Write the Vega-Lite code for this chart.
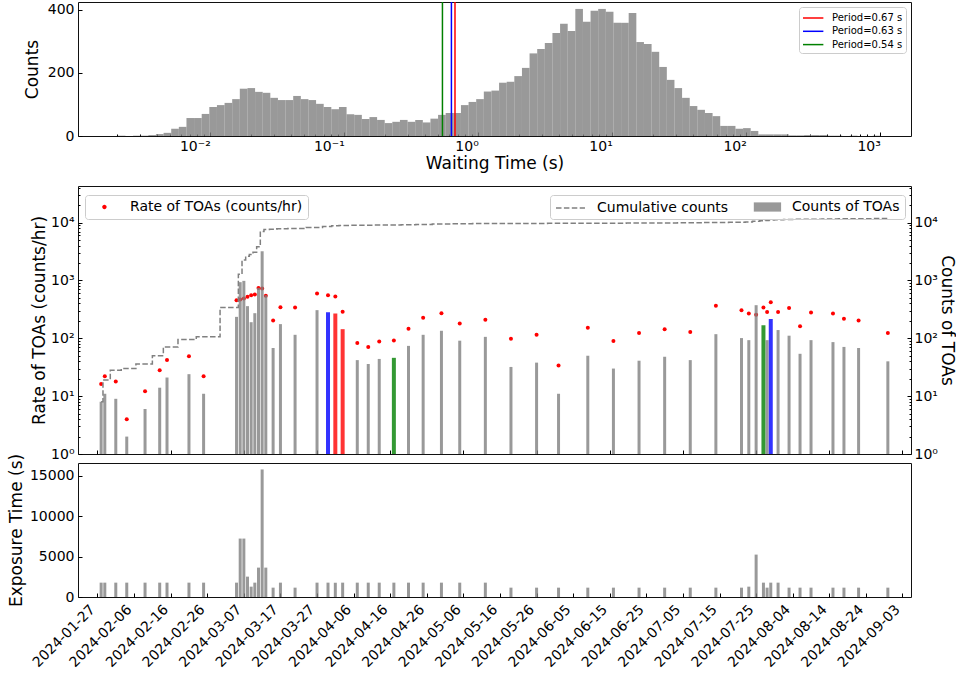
{
  "$schema": "https://vega.github.io/schema/vega-lite/v6.json",
  "background": "white",
  "padding": {"left": 6, "top": 0, "right": 0, "bottom": 0},
  "config": {
    "font": "DejaVu Sans",
    "view": {"stroke": "#111111", "strokeWidth": 1},
    "axis": {
      "domain": false, "grid": false, "labelFontSize": 14, "titleFontSize": 17,
      "titleFontWeight": "normal", "labelColor": "black", "titleColor": "black",
      "tickColor": "black", "tickWidth": 1, "tickSize": -4, "labelPadding": 8,
      "labelFlush": false, "labelOverlap": false, "minExtent": 0
    },
    "legend": {"labelColor": "black", "labelFont": "DejaVu Sans", "labelLimit": 400}
  },
  "datasets": {
    "periods": [
      {"p": 0.67, "label": "Period=0.67 s"},
      {"p": 0.63, "label": "Period=0.63 s"},
      {"p": 0.54, "label": "Period=0.54 s"}
    ],
    "hist": [
      {"a":0.002042,"b":0.002327,"n":1},{"a":0.002327,"b":0.002653,"n":0},{"a":0.002653,"b":0.003025,"n":1},
      {"a":0.003025,"b":0.003448,"n":1},{"a":0.003448,"b":0.003931,"n":3},{"a":0.003931,"b":0.004481,"n":6},
      {"a":0.004481,"b":0.005109,"n":10},{"a":0.005109,"b":0.005824,"n":23},{"a":0.005824,"b":0.00664,"n":29},
      {"a":0.00664,"b":0.007568,"n":57},{"a":0.007568,"b":0.008628,"n":57},{"a":0.008628,"b":0.009835,"n":70},
      {"a":0.009835,"b":0.01121,"n":92},{"a":0.01121,"b":0.01278,"n":98},{"a":0.01278,"b":0.01457,"n":105},
      {"a":0.01457,"b":0.01661,"n":117},{"a":0.01661,"b":0.01894,"n":150},{"a":0.01894,"b":0.02159,"n":152},
      {"a":0.02159,"b":0.02461,"n":140},{"a":0.02461,"b":0.02805,"n":137},{"a":0.02805,"b":0.03198,"n":121},
      {"a":0.03198,"b":0.03646,"n":114},{"a":0.03646,"b":0.04156,"n":114},{"a":0.04156,"b":0.04738,"n":127},
      {"a":0.04738,"b":0.05401,"n":117},{"a":0.05401,"b":0.06157,"n":114},{"a":0.06157,"b":0.07019,"n":102},
      {"a":0.07019,"b":0.08002,"n":92},{"a":0.08002,"b":0.09123,"n":85},{"a":0.09123,"b":0.104,"n":92},
      {"a":0.104,"b":0.1186,"n":69},{"a":0.1186,"b":0.1352,"n":67},{"a":0.1352,"b":0.1541,"n":54},
      {"a":0.1541,"b":0.1757,"n":60},{"a":0.1757,"b":0.2003,"n":51},{"a":0.2003,"b":0.2283,"n":41},
      {"a":0.2283,"b":0.2602,"n":45},{"a":0.2602,"b":0.2967,"n":51},{"a":0.2967,"b":0.3382,"n":45},
      {"a":0.3382,"b":0.3855,"n":51},{"a":0.3855,"b":0.4394,"n":43},{"a":0.4394,"b":0.5009,"n":55},
      {"a":0.5009,"b":0.5711,"n":67},{"a":0.5711,"b":0.6511,"n":73},{"a":0.6511,"b":0.7421,"n":73},
      {"a":0.7421,"b":0.846,"n":98},{"a":0.846,"b":0.9645,"n":108},{"a":0.9645,"b":1.0995,"n":117},
      {"a":1.0995,"b":1.2534,"n":141},{"a":1.2534,"b":1.4289,"n":144},{"a":1.4289,"b":1.629,"n":169},
      {"a":1.629,"b":1.857,"n":172},{"a":1.857,"b":2.117,"n":190},{"a":2.117,"b":2.413,"n":216},
      {"a":2.413,"b":2.751,"n":262},{"a":2.751,"b":3.136,"n":276},{"a":3.136,"b":3.575,"n":295},
      {"a":3.575,"b":4.076,"n":327},{"a":4.076,"b":4.646,"n":356},{"a":4.646,"b":5.297,"n":333},
      {"a":5.297,"b":6.038,"n":403},{"a":6.038,"b":6.883,"n":362},{"a":6.883,"b":7.847,"n":397},
      {"a":7.847,"b":8.946,"n":403},{"a":8.946,"b":10.2,"n":394},{"a":10.2,"b":11.63,"n":359},
      {"a":11.63,"b":13.25,"n":359},{"a":13.25,"b":15.11,"n":390},{"a":15.11,"b":17.22,"n":298},
      {"a":17.22,"b":19.64,"n":292},{"a":19.64,"b":22.38,"n":267},{"a":22.38,"b":25.52,"n":219},
      {"a":25.52,"b":29.09,"n":178},{"a":29.09,"b":33.16,"n":152},{"a":33.16,"b":37.81,"n":121},
      {"a":37.81,"b":43.1,"n":95},{"a":43.1,"b":49.13,"n":83},{"a":49.13,"b":56.01,"n":73},
      {"a":56.01,"b":63.86,"n":63},{"a":63.86,"b":72.78,"n":32},{"a":72.78,"b":82.98,"n":32},
      {"a":82.98,"b":94.58,"n":23},{"a":94.58,"b":107.8,"n":25},{"a":107.8,"b":122.9,"n":16},
      {"a":122.9,"b":140.1,"n":5},{"a":140.1,"b":159.7,"n":5},{"a":159.7,"b":182.1,"n":5},
      {"a":182.1,"b":207.6,"n":5},{"a":207.6,"b":236.6,"n":2},{"a":236.6,"b":269.8,"n":2},
      {"a":269.8,"b":307.5,"n":3},{"a":307.5,"b":350.6,"n":3},{"a":350.6,"b":399.6,"n":3},
      {"a":399.6,"b":455.6,"n":1},{"a":455.6,"b":519.4,"n":1},{"a":519.4,"b":592.1,"n":0},
      {"a":592.1,"b":675,"n":1},{"a":675,"b":769.5,"n":0},{"a":769.5,"b":877.2,"n":0},
      {"a":877.2,"b":1000,"n":1}
    ],
    "obs": [
      {"date":"2024-01-28","count":8,"rate":16.2,"exp":1778,"cum":8,"group":"Counts of TOAs"},
      {"date":"2024-01-29","count":11,"rate":22,"exp":1778,"cum":19,"group":"Counts of TOAs"},
      {"date":"2024-02-01","count":9,"rate":18,"exp":1778,"cum":28,"group":"Counts of TOAs"},
      {"date":"2024-02-04","count":2,"rate":4.0,"exp":1778,"cum":30,"group":"Counts of TOAs"},
      {"date":"2024-02-09","count":6,"rate":12.1,"exp":1778,"cum":36,"group":"Counts of TOAs"},
      {"date":"2024-02-13","count":14,"rate":28,"exp":1778,"cum":50,"group":"Counts of TOAs"},
      {"date":"2024-02-15","count":21,"rate":42,"exp":1778,"cum":71,"group":"Counts of TOAs"},
      {"date":"2024-02-21","count":24,"rate":49,"exp":1778,"cum":95,"group":"Counts of TOAs"},
      {"date":"2024-02-25","count":11,"rate":22,"exp":1778,"cum":106,"group":"Counts of TOAs"},
      {"date":"2024-03-05","count":235,"rate":457,"exp":1778,"cum":341,"group":"Counts of TOAs"},
      {"date":"2024-03-06","count":935,"rate":470,"exp":7238,"cum":1276,"group":"Counts of TOAs"},
      {"date":"2024-03-07","count":985,"rate":490,"exp":7238,"cum":2261,"group":"Counts of TOAs"},
      {"date":"2024-03-08","count":360,"rate":521,"exp":2523,"cum":2621,"group":"Counts of TOAs"},
      {"date":"2024-03-09","count":190,"rate":557,"exp":1282,"cum":2811,"group":"Counts of TOAs"},
      {"date":"2024-03-10","count":272,"rate":573,"exp":1778,"cum":3083,"group":"Counts of TOAs"},
      {"date":"2024-03-11","count":745,"rate":740,"exp":3640,"cum":3828,"group":"Counts of TOAs"},
      {"date":"2024-03-12","count":3200,"rate":730,"exp":15800,"cum":7028,"group":"Counts of TOAs"},
      {"date":"2024-03-13","count":557,"rate":542,"exp":3640,"cum":7585,"group":"Counts of TOAs"},
      {"date":"2024-03-15","count":68,"rate":204,"exp":1158,"cum":7653,"group":"Counts of TOAs"},
      {"date":"2024-03-17","count":176,"rate":346,"exp":1778,"cum":7829,"group":"Counts of TOAs"},
      {"date":"2024-03-21","count":115,"rate":342,"exp":1158,"cum":7944,"group":"Counts of TOAs"},
      {"date":"2024-03-27","count":307,"rate":596,"exp":1778,"cum":8251,"group":"Counts of TOAs"},
      {"date":"2024-03-30","count":283,"rate":557,"exp":1778,"cum":8534,"group":"Period=0.63 s"},
      {"date":"2024-04-01","count":269,"rate":529,"exp":1778,"cum":8803,"group":"Period=0.67 s"},
      {"date":"2024-04-03","count":144,"rate":287,"exp":1778,"cum":8947,"group":"Period=0.67 s"},
      {"date":"2024-04-07","count":42,"rate":83,"exp":1778,"cum":8989,"group":"Counts of TOAs"},
      {"date":"2024-04-10","count":36,"rate":71,"exp":1778,"cum":9025,"group":"Counts of TOAs"},
      {"date":"2024-04-13","count":44,"rate":88,"exp":1778,"cum":9069,"group":"Counts of TOAs"},
      {"date":"2024-04-17","count":46,"rate":92,"exp":1778,"cum":9115,"group":"Period=0.54 s"},
      {"date":"2024-04-21","count":74,"rate":146,"exp":1778,"cum":9189,"group":"Counts of TOAs"},
      {"date":"2024-04-25","count":115,"rate":226,"exp":1778,"cum":9304,"group":"Counts of TOAs"},
      {"date":"2024-04-30","count":135,"rate":272,"exp":1778,"cum":9439,"group":"Counts of TOAs"},
      {"date":"2024-05-05","count":91,"rate":181,"exp":1778,"cum":9530,"group":"Counts of TOAs"},
      {"date":"2024-05-12","count":106,"rate":209,"exp":1778,"cum":9636,"group":"Counts of TOAs"},
      {"date":"2024-05-19","count":32,"rate":98,"exp":1158,"cum":9668,"group":"Counts of TOAs"},
      {"date":"2024-05-26","count":38,"rate":115,"exp":1158,"cum":9706,"group":"Counts of TOAs"},
      {"date":"2024-06-01","count":11,"rate":34,"exp":1158,"cum":9717,"group":"Counts of TOAs"},
      {"date":"2024-06-09","count":50,"rate":152,"exp":1158,"cum":9767,"group":"Counts of TOAs"},
      {"date":"2024-06-16","count":30,"rate":89.5,"exp":1158,"cum":9797,"group":"Counts of TOAs"},
      {"date":"2024-06-23","count":41,"rate":123,"exp":1158,"cum":9838,"group":"Counts of TOAs"},
      {"date":"2024-06-30","count":48,"rate":143,"exp":1158,"cum":9886,"group":"Counts of TOAs"},
      {"date":"2024-07-07","count":42,"rate":129,"exp":1158,"cum":9928,"group":"Counts of TOAs"},
      {"date":"2024-07-14","count":118,"rate":364,"exp":1158,"cum":10046,"group":"Counts of TOAs"},
      {"date":"2024-07-21","count":101,"rate":307,"exp":1158,"cum":10147,"group":"Counts of TOAs"},
      {"date":"2024-07-23","count":93,"rate":269,"exp":1282,"cum":10240,"group":"Counts of TOAs"},
      {"date":"2024-07-25","count":374,"rate":255,"exp":5253,"cum":10614,"group":"Counts of TOAs"},
      {"date":"2024-07-27","count":169,"rate":342,"exp":1778,"cum":10783,"group":"Period=0.54 s"},
      {"date":"2024-07-28","count":93,"rate":284,"exp":1158,"cum":10876,"group":"Counts of TOAs"},
      {"date":"2024-07-29","count":215,"rate":422,"exp":1778,"cum":11091,"group":"Period=0.63 s"},
      {"date":"2024-07-31","count":139,"rate":284,"exp":1778,"cum":11230,"group":"Counts of TOAs"},
      {"date":"2024-08-03","count":111,"rate":336,"exp":1158,"cum":11341,"group":"Counts of TOAs"},
      {"date":"2024-08-06","count":54,"rate":162,"exp":1158,"cum":11395,"group":"Counts of TOAs"},
      {"date":"2024-08-09","count":93,"rate":280,"exp":1158,"cum":11488,"group":"Counts of TOAs"},
      {"date":"2024-08-15","count":86,"rate":269,"exp":1158,"cum":11574,"group":"Counts of TOAs"},
      {"date":"2024-08-18","count":71,"rate":217,"exp":1158,"cum":11645,"group":"Counts of TOAs"},
      {"date":"2024-08-22","count":68,"rate":204,"exp":1158,"cum":11713,"group":"Counts of TOAs"},
      {"date":"2024-08-30","count":40,"rate":123,"exp":1158,"cum":11753,"group":"Counts of TOAs"}
    ]
  },
  "spacing": 8,
  "resolve": {
    "scale": {"x": "independent", "y": "independent", "color": "independent", "fill": "independent", "strokeDash": "independent"},
    "legend": {"color": "independent", "fill": "independent", "strokeDash": "independent"}
  },
  "vconcat": [
    {
      "width": 833,
      "height": 134,
      "layer": [
        {
          "data": {"name": "hist"},
          "mark": {"type": "rect", "color": "gray", "opacity": 0.8},
          "encoding": {
            "x": {
              "field": "a", "type": "quantitative",
              "scale": {"type": "log", "domain": [0.00103, 1694], "nice": false},
              "axis": {
                "title": "Waiting Time (s)",
                "values": [0.002,0.003,0.004,0.005,0.006,0.007,0.008,0.009,0.01,0.02,0.03,0.04,0.05,0.06,0.07,0.08,0.09,0.1,0.2,0.3,0.4,0.5,0.6,0.7,0.8,0.9,1,2,3,4,5,6,7,8,9,10,20,30,40,50,60,70,80,90,100,200,300,400,500,600,700,800,900,1000],
                "labelExpr": "abs(log(datum.value)/LN10 - round(log(datum.value)/LN10)) < 0.01 ? '10' + ['⁻³','⁻²','⁻¹','⁰','¹','²','³'][round(log(datum.value)/LN10) + 3] : ''",
                "labelAlign": "right",
                "tickSize": {"condition": {"test": "abs(log(datum.value)/LN10 - round(log(datum.value)/LN10)) < 0.01", "value": -4}, "value": -2},
                "labelPadding": 7,
                "titlePadding": 0
              }
            },
            "x2": {"field": "b"},
            "y": {
              "field": "n", "type": "quantitative",
              "scale": {"domain": [0, 425], "nice": false},
              "axis": {"title": "Counts", "values": [0, 200, 400], "titlePadding": 6}
            },
            "y2": {"datum": 0}
          }
        },
        {
          "data": {"name": "periods"},
          "mark": {"type": "rule", "strokeWidth": 1.5},
          "encoding": {
            "x": {"field": "p", "type": "quantitative"},
            "color": {
              "field": "label", "type": "nominal",
              "scale": {"domain": ["Period=0.67 s", "Period=0.63 s", "Period=0.54 s"], "range": ["#ff0000", "#0000ff", "#008000"]},
              "legend": {
                "title": null, "orient": "top-right", "offset": 5,
                "labelFontSize": 10, "symbolType": "M-1,0H1.91", "symbolSize": 196,
                "symbolStrokeWidth": 1.5, "labelOffset": 14, "rowPadding": 0.3,
                "padding": 3, "strokeColor": "#cccccc", "fillColor": "white", "cornerRadius": 3
              }
            }
          }
        }
      ]
    },
    {
      "spacing": 9,
      "bounds": "flush",
      "resolve": {
        "scale": {"x": "independent", "y": "independent", "fill": "independent", "strokeDash": "independent", "color": "independent"},
        "legend": {"fill": "independent", "strokeDash": "independent", "color": "independent"}
      },
      "vconcat": [
        {
          "width": 833,
          "height": 268,
          "data": {"name": "obs"},
          "resolve": {"scale": {"y": "independent"}},
          "layer": [
            {
              "mark": {"type": "point", "shape": "circle", "filled": true, "opacity": 1, "size": 16, "strokeWidth": 0},
              "encoding": {
                "x": {
                  "field": "date", "type": "temporal",
                  "scale": {"type": "utc", "domain": [{"year": 2024, "month": 1, "date": 23, "hours": 1, "utc": true}, {"year": 2024, "month": 9, "date": 3, "hours": 23, "utc": true}]},
                  "axis": {
                    "title": null, "labels": false, "minExtent": 0, "maxExtent": 0,
                    "values": [
                      {"year":2024,"month":1,"date":27,"utc":true},{"year":2024,"month":2,"date":6,"utc":true},{"year":2024,"month":2,"date":16,"utc":true},
                      {"year":2024,"month":2,"date":26,"utc":true},{"year":2024,"month":3,"date":7,"utc":true},{"year":2024,"month":3,"date":17,"utc":true},
                      {"year":2024,"month":3,"date":27,"utc":true},{"year":2024,"month":4,"date":6,"utc":true},{"year":2024,"month":4,"date":16,"utc":true},
                      {"year":2024,"month":4,"date":26,"utc":true},{"year":2024,"month":5,"date":6,"utc":true},{"year":2024,"month":5,"date":16,"utc":true},
                      {"year":2024,"month":5,"date":26,"utc":true},{"year":2024,"month":6,"date":5,"utc":true},{"year":2024,"month":6,"date":15,"utc":true},
                      {"year":2024,"month":6,"date":25,"utc":true},{"year":2024,"month":7,"date":5,"utc":true},{"year":2024,"month":7,"date":15,"utc":true},
                      {"year":2024,"month":7,"date":25,"utc":true},{"year":2024,"month":8,"date":4,"utc":true},{"year":2024,"month":8,"date":14,"utc":true},
                      {"year":2024,"month":8,"date":24,"utc":true},{"year":2024,"month":9,"date":3,"utc":true}
                    ]
                  }
                },
                "y": {
                  "field": "rate", "type": "quantitative",
                  "scale": {"type": "log", "domain": [1, 43000], "nice": false},
                  "axis": {
                    "title": "Rate of TOAs (counts/hr)", "orient": "left",
                    "values": [1,2,3,4,5,6,7,8,9,10,20,30,40,50,60,70,80,90,100,200,300,400,500,600,700,800,900,1000,2000,3000,4000,5000,6000,7000,8000,9000,10000,20000,30000,40000],
                    "labelExpr": "abs(log(datum.value)/LN10 - round(log(datum.value)/LN10)) < 0.01 ? '10' + ['⁰','¹','²','³','⁴'][round(log(datum.value)/LN10)] : ''",
                    "tickSize": {"condition": {"test": "abs(log(datum.value)/LN10 - round(log(datum.value)/LN10)) < 0.01", "value": -4}, "value": -2},
                    "labelPadding": 8, "titlePadding": 2
                  }
                },
                "fill": {
                  "datum": "Rate of TOAs (counts/hr)", "type": "nominal",
                  "scale": {"range": ["#ff0000"]},
                  "legend": {
                    "title": null, "orient": "none", "legendX": 7, "legendY": 9,
                    "symbolType": "M0.746,0A0.314,0.314,0,1,0,1.374,0A0.314,0.314,0,1,0,0.746,0Z",
                    "symbolSize": 196, "symbolFillColor": "#ff0000", "symbolStrokeWidth": 0,
                    "labelFontSize": 14, "labelOffset": 26, "padding": 5,
                    "strokeColor": "#cccccc", "fillColor": "white", "cornerRadius": 3
                  }
                }
              }
            },
            {
              "layer": [
                {
                  "transform": [{"filter": "datum.group === 'Counts of TOAs'"}],
                  "mark": {"type": "bar", "size": 3, "opacity": 0.8},
                  "encoding": {
                    "x": {"field": "date", "type": "temporal"},
                    "y": {
                      "field": "count", "type": "quantitative",
                      "scale": {"type": "log", "domain": [1, 43000], "nice": false},
                      "axis": {
                        "title": "Counts of TOAs", "orient": "right",
                        "values": [1,2,3,4,5,6,7,8,9,10,20,30,40,50,60,70,80,90,100,200,300,400,500,600,700,800,900,1000,2000,3000,4000,5000,6000,7000,8000,9000,10000,20000,30000,40000],
                        "labelExpr": "abs(log(datum.value)/LN10 - round(log(datum.value)/LN10)) < 0.01 ? '10' + ['⁰','¹','²','³','⁴'][round(log(datum.value)/LN10)] : ''",
                        "tickSize": {"condition": {"test": "abs(log(datum.value)/LN10 - round(log(datum.value)/LN10)) < 0.01", "value": -4}, "value": -2},
                        "labelPadding": 7, "titlePadding": 0
                      }
                    },
                    "y2": {"datum": 1},
                    "color": {
                      "field": "group", "type": "nominal",
                      "scale": {
                        "domain": ["Counts of TOAs", "Period=0.67 s", "Period=0.63 s", "Period=0.54 s"],
                        "range": ["#808080", "#ff0000", "#0000ff", "#008000"]
                      },
                      "legend": {
                        "title": null, "orient": "none", "legendX": 472, "legendY": 9,
                        "values": ["Counts of TOAs"],
                        "symbolType": "M27.4,-0.66H31.3V0.66H27.4Z",
                        "symbolSize": 196, "symbolOpacity": 0.8, "symbolStrokeWidth": 0,
                        "labelFontSize": 14, "labelOffset": 223, "padding": 5,
                        "strokeColor": "#cccccc", "fillColor": "transparent", "cornerRadius": 3
                      }
                    }
                  }
                },
                {
                  "transform": [{"filter": "datum.group !== 'Counts of TOAs'"}],
                  "mark": {"type": "bar", "size": 4, "opacity": 0.8},
                  "encoding": {
                    "x": {"field": "date", "type": "temporal"},
                    "y": {"field": "count", "type": "quantitative"},
                    "y2": {"datum": 1},
                    "color": {"field": "group", "type": "nominal"}
                  }
                },
                {
                  "mark": {"type": "line", "interpolate": "step", "strokeWidth": 1.5, "color": "#808080"},
                  "encoding": {
                    "x": {"field": "date", "type": "temporal"},
                    "y": {"field": "cum", "type": "quantitative"},
                    "strokeDash": {
                      "datum": "Cumulative counts", "type": "nominal",
                      "scale": {"range": [[5.5, 2.4]]},
                      "legend": {
                        "title": null, "orient": "none", "legendX": 472, "legendY": 9,
                        "symbolType": "M-1,0H3.14", "symbolSize": 196,
                        "symbolStrokeColor": "#808080", "symbolStrokeWidth": 1.5,
                        "labelFontSize": 14, "labelOffset": 26, "padding": 5,
                        "strokeColor": "transparent", "fillColor": "transparent"
                      }
                    }
                  }
                }
              ]
            }
          ]
        },
        {
          "width": 833,
          "height": 134,
          "data": {"name": "obs"},
          "mark": {"type": "bar", "size": 3, "color": "gray", "opacity": 0.8},
          "encoding": {
            "x": {
              "field": "date", "type": "temporal",
              "scale": {"type": "utc", "domain": [{"year": 2024, "month": 1, "date": 23, "hours": 1, "utc": true}, {"year": 2024, "month": 9, "date": 3, "hours": 23, "utc": true}]},
              "axis": {
                "title": null, "format": "%Y-%m-%d", "labelAngle": -45, "labelAlign": "right", "labelBaseline": "bottom",
                "labelPadding": 19,
                "values": [
                  {"year":2024,"month":1,"date":27,"utc":true},{"year":2024,"month":2,"date":6,"utc":true},{"year":2024,"month":2,"date":16,"utc":true},
                  {"year":2024,"month":2,"date":26,"utc":true},{"year":2024,"month":3,"date":7,"utc":true},{"year":2024,"month":3,"date":17,"utc":true},
                  {"year":2024,"month":3,"date":27,"utc":true},{"year":2024,"month":4,"date":6,"utc":true},{"year":2024,"month":4,"date":16,"utc":true},
                  {"year":2024,"month":4,"date":26,"utc":true},{"year":2024,"month":5,"date":6,"utc":true},{"year":2024,"month":5,"date":16,"utc":true},
                  {"year":2024,"month":5,"date":26,"utc":true},{"year":2024,"month":6,"date":5,"utc":true},{"year":2024,"month":6,"date":15,"utc":true},
                  {"year":2024,"month":6,"date":25,"utc":true},{"year":2024,"month":7,"date":5,"utc":true},{"year":2024,"month":7,"date":15,"utc":true},
                  {"year":2024,"month":7,"date":25,"utc":true},{"year":2024,"month":8,"date":4,"utc":true},{"year":2024,"month":8,"date":14,"utc":true},
                  {"year":2024,"month":8,"date":24,"utc":true},{"year":2024,"month":9,"date":3,"utc":true}
                ]
              }
            },
            "y": {
              "field": "exp", "type": "quantitative",
              "scale": {"domain": [0, 16600], "nice": false},
              "axis": {"title": "Exposure Time (s)", "values": [0, 5000, 10000, 15000], "format": "d", "titlePadding": 4}
            }
          }
        }
      ]
    }
  ]
}
